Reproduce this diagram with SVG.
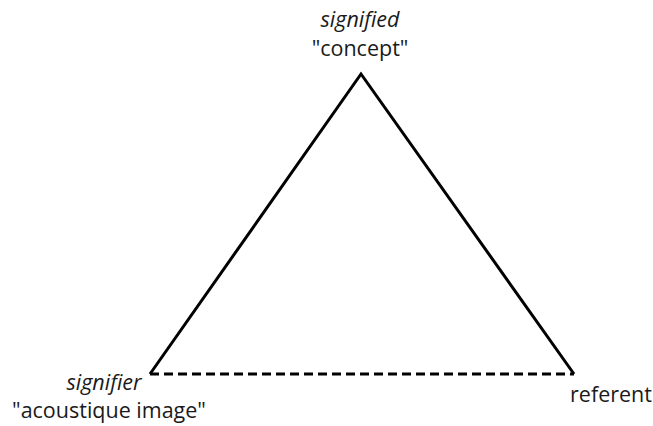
<svg xmlns="http://www.w3.org/2000/svg" width="653" height="426" viewBox="0 0 653 426">
  <style>
    .lbl { font-family: "Open Sans", "Noto Sans", sans-serif; font-size: 21.5px; fill: #1a1a1a; }
    .it { font-style: italic; }
    .edge { stroke: #000; stroke-width: 3; fill: none; stroke-linecap: butt; stroke-linejoin: miter; }
    .dash { stroke-dasharray: 9 5; }
  </style>
  <rect width="653" height="426" fill="#fff"/>
  <g id="connectors">
    <path class="edge" d="M150 374 L361 74 L574 374"/>
    <path class="edge dash" d="M150 374 L574 374"/>
  </g>
  <g id="signified">
    <text class="lbl it" x="360" y="27" text-anchor="middle">signified</text>
    <text class="lbl" x="360" y="56" text-anchor="middle">"concept"</text>
  </g>
  <g id="signifier">
    <text class="lbl it" x="104" y="390" text-anchor="middle">signifier</text>
    <text class="lbl" x="109" y="418" text-anchor="middle">"acoustique image"</text>
  </g>
  <g id="referent">
    <text class="lbl" x="611" y="402" text-anchor="middle">referent</text>
  </g>
</svg>
